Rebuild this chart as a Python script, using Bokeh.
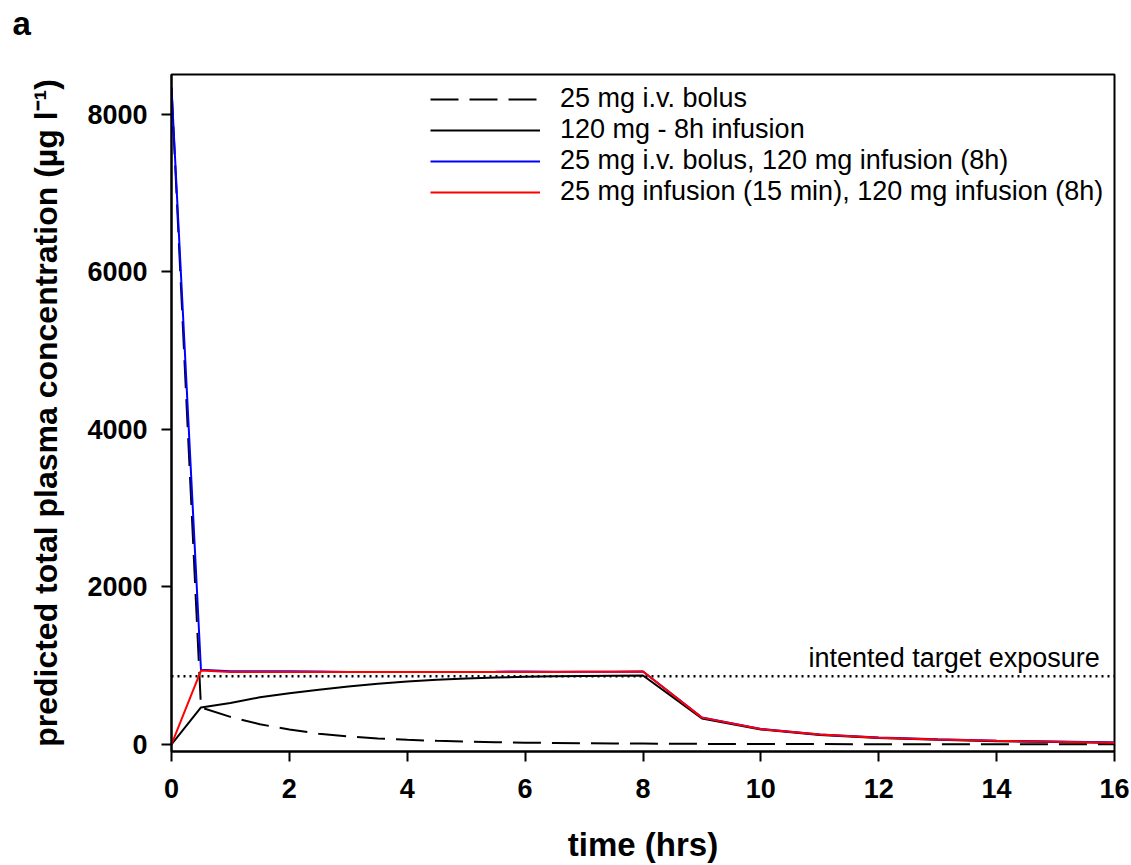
from bokeh.plotting import figure
from bokeh.models import Range1d, Legend, LegendItem, Label, FixedTicker, Title
from bokeh.embed import file_html
from bokeh.resources import INLINE

# ---- data ----
time_h = [0, 0.5, 1, 1.5, 2, 2.5, 3, 3.5, 4, 4.5, 5, 5.5, 6, 6.5, 7, 7.5, 8,
          9, 10, 11, 12, 13, 14, 15, 16]
bolus_25mg = [8340, 470, 350, 255, 190, 135, 100, 75, 58, 45, 35, 27, 22, 18, 15, 12, 10,
              7, 5, 4, 3, 2, 2, 1, 1]
infusion_120mg = [0, 470, 525, 598, 650, 695, 735, 770, 800, 822, 838, 850, 858, 864, 868, 872, 875,
                  330, 190, 120, 80, 58, 40, 30, 20]
bolus_plus_infusion = [8340, 948, 930, 930, 928, 925, 920, 920, 920, 920, 920, 922, 927, 922, 921, 922, 925,
                       342, 197, 127, 87, 64, 46, 36, 24]
short_inf_plus_infusion = [0, 938, 918, 918, 918, 918, 918, 919, 920, 920, 920, 920, 920, 920, 921, 922, 925,
                           340, 195, 125, 85, 62, 45, 35, 22]
target_time = [0, 16]
target_conc = [865, 865]
target_label = "intented target exposure"

x_ticks = [0, 2, 4, 6, 8, 10, 12, 14, 16]
y_ticks = [0, 2000, 4000, 6000, 8000]

series_labels = ["25 mg i.v. bolus",
                 "120 mg - 8h infusion",
                 "25 mg i.v. bolus, 120 mg infusion (8h)",
                 "25 mg infusion (15 min), 120 mg infusion (8h)"]

FONT = "Liberation Sans"

p = figure(width=1131, height=865, output_backend="svg", toolbar_location=None,
           x_range=Range1d(0, 16), y_range=Range1d(-90, 8505),
           min_border_left=171, min_border_right=17, min_border_top=74, min_border_bottom=113,
           background_fill_color="white", border_fill_color="white")

p.xgrid.visible = False
p.ygrid.visible = False
p.outline_line_color = "black"
p.outline_line_width = 2
p.outline_line_alpha = 1

for ax in (p.xaxis[0], p.yaxis[0]):
    ax.axis_line_width = 2
    ax.axis_line_color = "black"
    ax.major_tick_line_width = 2
    ax.major_tick_out = 10
    ax.major_tick_in = 0
    ax.minor_tick_out = 0
    ax.minor_tick_in = 0
    ax.major_label_text_font = FONT
    ax.major_label_text_font_style = "bold"
    ax.major_label_text_font_size = "27px"
    ax.major_label_text_color = "black"
    ax.axis_label_text_font = FONT
    ax.axis_label_text_font_style = "bold"
    ax.axis_label_text_color = "black"

p.xaxis[0].ticker = FixedTicker(ticks=x_ticks)
p.yaxis[0].ticker = FixedTicker(ticks=y_ticks)
p.xaxis[0].major_label_standoff = 17
p.yaxis[0].major_label_standoff = 14
p.xaxis[0].axis_label = "time (hrs)"
p.yaxis[0].axis_label = "predicted total plasma concentration (\u00b5g l\u207b\u00b9)"
p.xaxis[0].axis_label_text_font_size = "33px"
p.yaxis[0].axis_label_text_font_size = "32px"
p.xaxis[0].axis_label_standoff = 25
p.yaxis[0].axis_label_standoff = 20

# target exposure
p.line(target_time, target_conc, line_color="black", line_width=2.5, line_dash="2 4")

r_bolus = p.line(time_h, bolus_25mg, line_color="black", line_width=2, line_dash="28 11")
r_inf = p.line(time_h, infusion_120mg, line_color="black", line_width=2)
r_blue = p.line(time_h, bolus_plus_infusion, line_color="#0000ff", line_width=2)
r_red = p.line(time_h, short_inf_plus_infusion, line_color="#ff0000", line_width=2)

p.add_layout(Label(x=15.75, y=1100, text=target_label, text_align="right",
                   text_baseline="alphabetic", text_font=FONT, text_font_size="27px",
                   text_color="black"))

legend = Legend(items=[LegendItem(label=series_labels[0], renderers=[r_bolus]),
                       LegendItem(label=series_labels[1], renderers=[r_inf]),
                       LegendItem(label=series_labels[2], renderers=[r_blue]),
                       LegendItem(label=series_labels[3], renderers=[r_red])],
                location=(259, 544), padding=0, margin=0, spacing=0,
                glyph_width=110, glyph_height=22, label_height=22, label_standoff=20,
                label_text_font=FONT, label_text_font_size="27px", label_text_color="black",
                border_line_alpha=0, background_fill_alpha=0)
p.add_layout(legend)

# spacer between frame and the panel letter, then the panel letter itself
p.add_layout(Title(text=" ", text_font=FONT, text_font_size="10px", standoff=15), "above")
p.add_layout(Title(text="a", text_font=FONT, text_font_style="bold", text_font_size="33px",
                   align="left", vertical_align="top", offset=-159, standoff=6,
                   text_color="black"), "above")

open("out.html", "w").write(file_html(p, INLINE))
